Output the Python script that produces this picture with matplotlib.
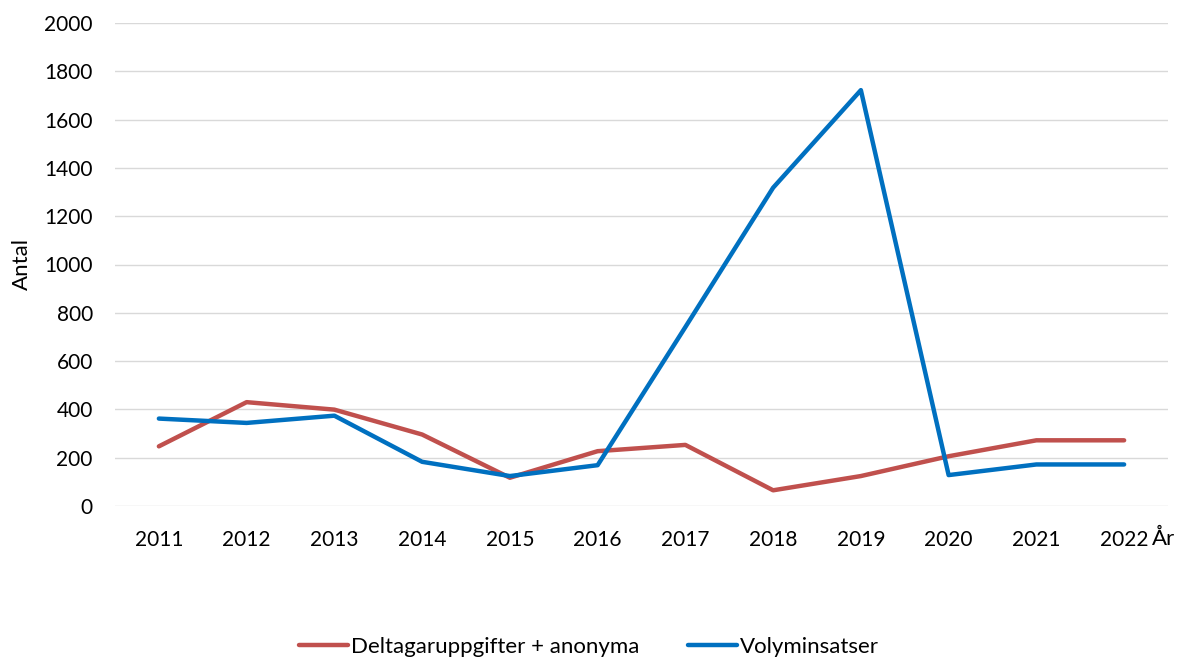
import matplotlib
matplotlib.use("Agg")
import matplotlib.pyplot as plt

years = ["2011", "2012", "2013", "2014", "2015", "2016",
         "2017", "2018", "2019", "2020", "2021", "2022"]
deltagare = [247, 430, 399, 296, 117, 227, 253, 65, 124, 206, 272, 272]
volym = [362, 344, 374, 183, 124, 169, 741, 1318, 1722, 128, 172, 172]
yticks = [0, 200, 400, 600, 800, 1000, 1200, 1400, 1600, 1800, 2000]

plt.rcParams["font.family"] = ["Lato", "DejaVu Sans"]
plt.rcParams["font.size"] = 15

fig = plt.figure(figsize=(11.78, 6.59), dpi=100)
ax = fig.add_axes([115 / 1178, 1 - 506 / 659, 1053 / 1178, 483 / 659])

x = list(range(len(years)))
ax.plot(x, deltagare, color="#C0504D", linewidth=3.2, label="Deltagaruppgifter + anonyma",
        solid_capstyle="round", solid_joinstyle="round")
ax.plot(x, volym, color="#0070C0", linewidth=3.2, label="Volyminsatser",
        solid_capstyle="round", solid_joinstyle="round")

ax.set_xlim(-0.5, len(years) - 0.5)
ax.set_ylim(0, 2000)
ax.set_xticks(x)
ax.set_xticklabels(years)
ax.set_yticks(yticks)
ax.tick_params(axis="both", length=0, colors="#000000")
ax.tick_params(axis="x", pad=17)
ax.tick_params(axis="y", pad=16)
ax.grid(axis="y", color="#D9D9D9", linewidth=1)
ax.set_axisbelow(True)
for side in ["top", "right", "left", "bottom"]:
    ax.spines[side].set_visible(False)

ax.set_ylabel("Antal", fontsize=16)
ax.yaxis.set_label_coords(-83 / 1053, 0.5)
fig.text(1152 / 1178, 1 - 539 / 659, "År", va="center", ha="left", fontsize=16)

fig.legend(loc="center", bbox_to_anchor=(0.5, 1 - 647 / 659), ncol=2, frameon=False,
           fontsize=16, handlelength=2.2, handletextpad=0.15, columnspacing=2.2,
           borderaxespad=0)

fig.savefig("out.png", dpi=100)
